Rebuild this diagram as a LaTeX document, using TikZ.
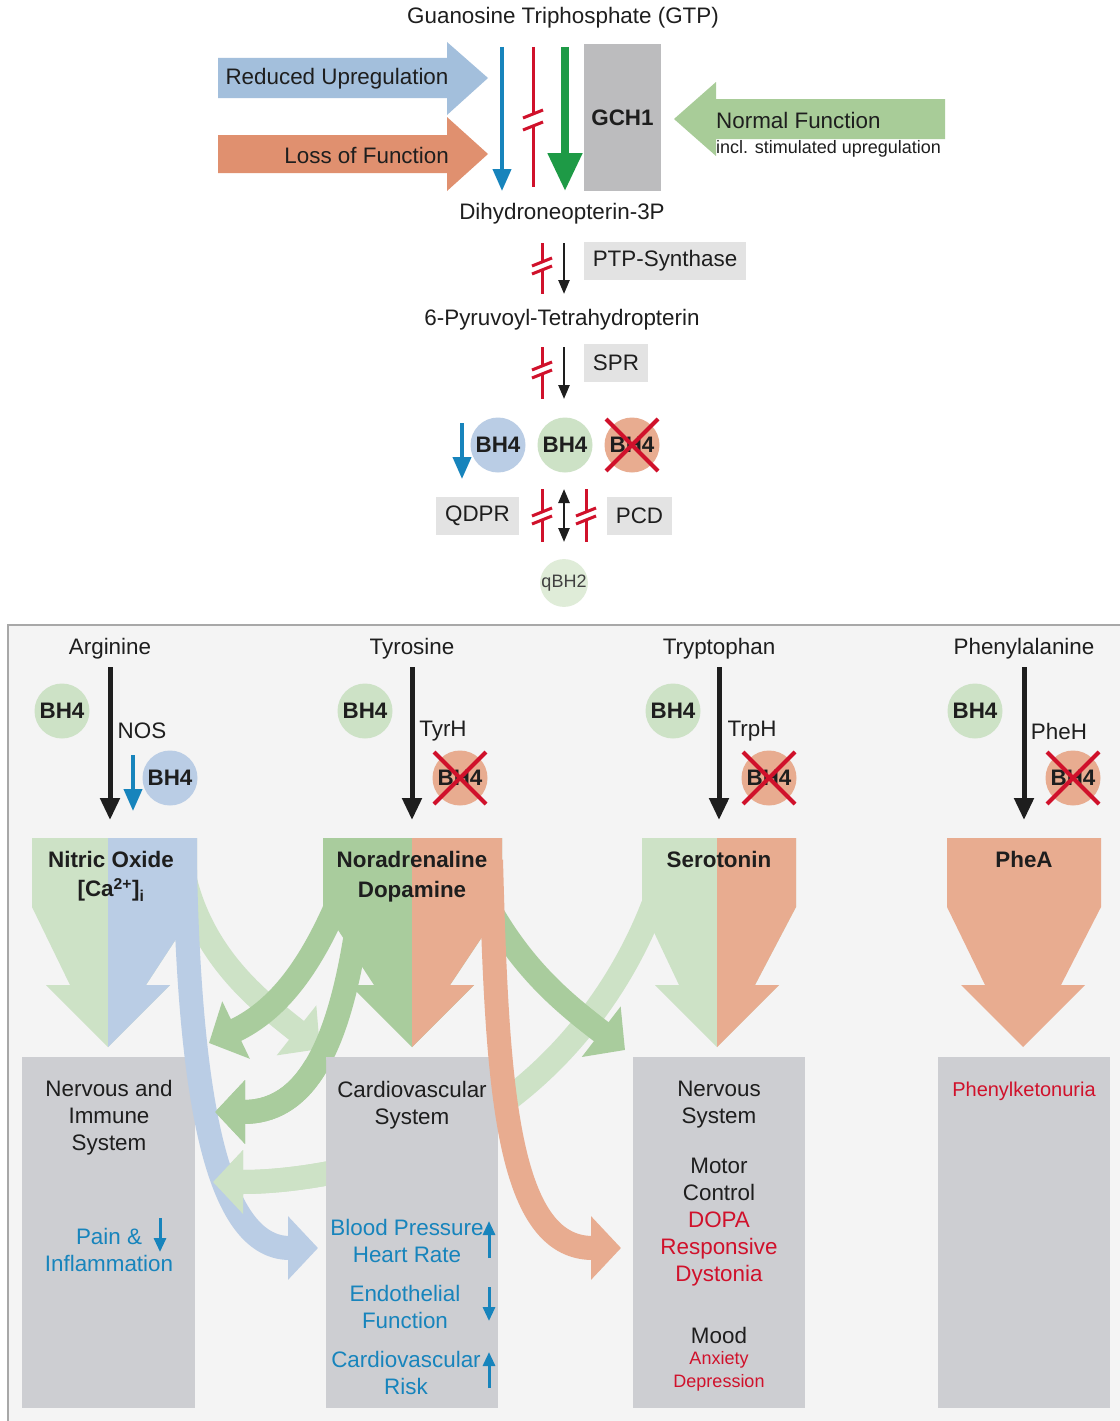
\documentclass[tikz,border=0pt]{standalone}
\usepackage{fontspec}
\setmainfont{Liberation Sans}
\usetikzlibrary{arrows.meta}
\definecolor{lgreen}{HTML}{CDE2C6}
\definecolor{dgreen}{HTML}{A9CC9D}
\definecolor{lblue}{HTML}{BACDE5}
\definecolor{orng}{HTML}{E8AC90}
\definecolor{boxgray}{HTML}{CDCED2}
\definecolor{panelbg}{HTML}{F4F4F4}
\definecolor{panelline}{HTML}{A8A8A8}
\definecolor{arrBlue}{HTML}{A3BFDC}
\definecolor{arrOrange}{HTML}{E0906F}
\definecolor{arrGreen}{HTML}{A8CC98}
\definecolor{tblue}{HTML}{1784BC}
\definecolor{tred}{HTML}{D0112B}
\definecolor{sgreen}{HTML}{1E9A46}
\definecolor{gchgray}{HTML}{BCBCBE}
\definecolor{lightbox}{HTML}{E3E3E3}
\definecolor{qbh}{HTML}{DFECD8}
\definecolor{txt}{HTML}{1E1E1E}
\newcommand{\fsN}{\fontsize{22.4}{27}\selectfont}
\newcommand{\fsS}{\fontsize{18}{23}\selectfont}
\newcommand{\fsP}{\fontsize{20}{24}\selectfont}
\newcommand{\redbreak}[5]{%
  \draw[redln] (#1,#2) -- (#1,{#4-#5});
  \draw[redln] (#1,{#4+#5}) -- (#1,#3);
  \draw[redln] ({#1-10},{#4-#5+4}) -- ({#1+10},{#4-#5-4});
  \draw[redln] ({#1-10},{#4+#5+4}) -- ({#1+10},{#4+#5-4});}
\newcommand{\crossit}[1]{%
  \draw[xr] ([shift={(-26,-26)}]#1.center) -- ([shift={(26,26)}]#1.center);
  \draw[xr] ([shift={(26,-26)}]#1.center) -- ([shift={(-26,26)}]#1.center);}
\newcommand{\blockfill}[4]{%
  \fill[#4] (#1,838) -- (#2,838) -- (#2,907) -- ({#3+38},985) -- ({#3+62},985) -- (#3,1047) -- ({#3-62},985) -- ({#3-38},985) -- (#1,907) -- cycle;}
\newcommand{\bandsix}{\draw[band, draw=lgreen] (s6) .. controls (625,995) and (540,1100) .. (m6) .. controls (350,1172) and (290,1182) .. (e6);}
\newcommand{\bandfour}{\draw[band, draw=dgreen] (s4) .. controls (338,1060) and (300,1112) .. (e4);}
\begin{document}
\begin{tikzpicture}[x=1pt,y=-1pt,
  tx/.style={font=\fsN, text=txt, inner sep=0pt},
  txb/.style={font=\fsN\bfseries, text=txt, inner sep=0pt},
  txs/.style={font=\fsS, text=txt, inner sep=0pt},
  lbox/.style={fill=lightbox, font=\fsN, text=txt, inner sep=0pt, minimum height=38pt},
  circ/.style={circle, inner sep=0pt, minimum size=55pt, font=\fsN\bfseries, text=txt},
  sysbox/.style={fill=boxgray, inner sep=0pt, minimum width=173pt, minimum height=351pt},
  redln/.style={draw=tred, line width=3pt},
  xr/.style={draw=tred, line width=4pt},
  barr/.style={draw=tblue, line width=4pt, -{Triangle[length=22pt,width=18pt]}},
  karr/.style={draw=txt, line width=2.5pt, -{Triangle[length=14pt,width=11pt]}},
  bigk/.style={draw=txt, line width=5pt, -{Triangle[length=22pt,width=19pt]}},
  ind/.style={draw=tblue, line width=3pt, -{Triangle[length=14pt,width=12pt]}},
  band/.style={line width=24pt, -{Triangle[length=30pt,width=62pt]}}
]
\useasboundingbox (0,0) rectangle (1119,1421);
\fill[white] (0,0) rectangle (1119,1421);

% ---------------- top part
\node[tx] (gtp) at (563,18) {Guanosine Triphosphate (GTP)};
\fill[arrBlue] (218,58) -- (447,58) -- (447,42) -- (488,78) -- (447,115) -- (447,98) -- (218,98) -- cycle;
\node[tx] (ru) at (337,79) {Reduced Upregulation};
\fill[arrOrange] (218,135) -- (447,135) -- (447,117) -- (488,154) -- (447,191) -- (447,173) -- (218,173) -- cycle;
\node[tx, anchor=east] (lf) at (449,155) {Loss of Function};
\fill[arrGreen] (945,99) -- (716,99) -- (716,82) -- (674,119) -- (716,156) -- (716,139) -- (945,139) -- cycle;
\node[tx, anchor=west] (nf) at (716,120) {Normal Function};
\node[txs, anchor=west] (nf2) at (716,149) {incl. stimulated upregulation};
\node[fill=gchgray, minimum width=77pt, minimum height=147pt, inner sep=0pt, font=\fsN\bfseries, text=txt] (gch) at (622.5,117.5) {GCH1};
\coordinate (ba) at (502,47); \coordinate (bb) at (502,191);
\draw[barr] (ba) -- (bb);
\redbreak{533}{47}{187}{120}{6}
\coordinate (ga) at (565,47); \coordinate (gb) at (565,191);
\draw[draw=sgreen, line width=8pt, -{Triangle[length=38pt,width=33pt]}] (ga) -- (gb);
\node[tx] (dhn) at (562,214) {Dihydroneopterin-3P};
\redbreak{542}{243}{294}{266}{4}
\coordinate (p1) at (564,243); \coordinate (p2) at (564,294);
\draw[karr] (p1) -- (p2);
\node[lbox, minimum width=162pt] (ptp) at (665,261) {PTP-Synthase};
\node[tx] (pyr) at (562,320) {6-Pyruvoyl-Tetrahydropterin};
\redbreak{542}{347}{399}{370}{4}
\coordinate (s1a) at (564,347); \coordinate (s1b) at (564,399);
\draw[karr] (s1a) -- (s1b);
\node[lbox, minimum width=64pt] (spr) at (616,363) {SPR};
\node[circ, fill=lblue] (bh4a) at (498,445) {BH4};
\coordinate (da) at (462,423); \coordinate (db) at (462,479);
\draw[barr] (da) -- (db);
\node[circ, fill=lgreen] (bh4b) at (565,445) {BH4};
\node[circ, fill=orng] (bh4c) at (632,445) {BH4};
\crossit{bh4c}
\node[lbox, minimum width=83pt] (qdpr) at (477.5,516) {QDPR};
\node[lbox, minimum width=65pt] (pcd) at (639.5,516) {PCD};
\redbreak{542}{489}{542}{516}{4}
\redbreak{586}{489}{542}{516}{4}
\coordinate (q1) at (564,489); \coordinate (q2) at (564,542);
\draw[draw=txt, line width=2.5pt, {Triangle[length=14pt,width=11pt]}-{Triangle[length=14pt,width=11pt]}] (q1) -- (q2);
\node[circle, fill=qbh, minimum size=46pt, inner sep=0pt, font=\fsS, text=txt!85] (qbh2) at (564,583) {qBH2};

% ---------------- bottom panel
\fill[panelbg] (8,625) rectangle (1130,1430);
\draw[panelline, line width=2pt] (8,1430) -- (8,625) -- (1130,625);

% column headers
\node[tx] (arg) at (110,649) {Arginine};
\node[tx] (tyr) at (412,649) {Tyrosine};
\node[tx] (trp) at (719,649) {Tryptophan};
\node[tx] (phe) at (1024,649) {Phenylalanine};
\coordinate (a1) at (110,667); \coordinate (a1e) at (110,820);
\coordinate (a2) at (412,667); \coordinate (a2e) at (412,820);
\coordinate (a3) at (719,667); \coordinate (a3e) at (719,820);
\coordinate (a4) at (1024,667); \coordinate (a4e) at (1024,820);
\draw[bigk] (a1) -- (a1e);
\draw[bigk] (a2) -- (a2e);
\draw[bigk] (a3) -- (a3e);
\draw[bigk] (a4) -- (a4e);
\node[circ, fill=lgreen] (g1) at (62,711) {BH4};
\node[circ, fill=lgreen] (g2) at (365,711) {BH4};
\node[circ, fill=lgreen] (g3) at (673,711) {BH4};
\node[circ, fill=lgreen] (g4) at (975,711) {BH4};
\node[tx] (nos) at (142,731) {NOS};
\node[tx] (tyrh) at (443,731) {TyrH};
\node[tx] (trph) at (752,731) {TrpH};
\node[tx] (pheh) at (1059,731) {PheH};
\coordinate (n1) at (133,755); \coordinate (n2) at (133,811);
\draw[barr] (n1) -- (n2);
\node[circ, fill=lblue] (c1) at (170,778) {BH4};
\node[circ, fill=orng] (c2) at (460,778) {BH4};
\node[circ, fill=orng] (c3) at (769,778) {BH4};
\node[circ, fill=orng] (c4) at (1073,778) {BH4};
\crossit{c2}
\crossit{c3}
\crossit{c4}

% curved bands (under)
\coordinate (s6) at (662,880); \coordinate (m6) at (420,1150); \coordinate (e6) at (213,1182);
\bandsix
\coordinate (s2) at (185,880); \coordinate (e2) at (320,1049);
\draw[band, draw=lgreen] (s2) .. controls (205,960) and (262,1003) .. (e2);
\coordinate (s5) at (470,870); \coordinate (e5) at (625,1050);
\draw[band, draw=dgreen] (s5) .. controls (510,960) and (560,1000) .. (e5);
\coordinate (s3) at (345,885); \coordinate (e3) at (209,1043);
\draw[band, draw=dgreen] (s3) .. controls (315,960) and (282,1008) .. (e3);
\coordinate (s4) at (358,920); \coordinate (e4) at (215,1112);
\bandfour

% block arrows
\blockfill{32}{197}{108}{lgreen}
\begin{scope}\clip (108,800) rectangle (300,1100); \blockfill{32}{197}{108}{lblue} \end{scope}
\blockfill{323}{502}{412}{dgreen}
\begin{scope}\clip (412,800) rectangle (600,1100); \blockfill{323}{502}{412}{orng} \end{scope}
\blockfill{642}{796}{717}{lgreen}
\begin{scope}\clip (717,800) rectangle (900,1100); \blockfill{642}{796}{717}{orng} \end{scope}
\blockfill{947}{1101}{1023}{orng}

% system boxes
\node[sysbox] (box1) at (108.5,1232.5) {};
\node[sysbox, minimum width=172pt] (box2) at (412,1232.5) {};
\node[sysbox, minimum width=172pt] (box3) at (719,1232.5) {};
\node[sysbox, minimum width=172pt] (box4) at (1024,1232.5) {};

% bands over
\coordinate (s1) at (185,870); \coordinate (e1) at (318,1248);
\draw[band, draw=lblue] (s1) .. controls (190,1090) and (215,1248) .. (e1);
\coordinate (s7) at (491,860); \coordinate (e7) at (621,1248);
\draw[band, draw=orng] (s7) .. controls (497,1080) and (505,1248) .. (e7);
% heads of green bands lie over the blue band
\begin{scope}
\clip (197,1060) rectangle (326,1232);
\bandfour
\bandsix
\end{scope}

% block labels
\node[txb] (no) at (111,859) {Nitric Oxide};
\node[txb] (ca) at (111,890) {[Ca\textsuperscript{2+}]\textsubscript{i}};
\node[txb] (nor) at (412,859) {Noradrenaline};
\node[txb] (dop) at (412,892) {Dopamine};
\node[txb] (ser) at (719,859) {Serotonin};
\node[txb] (phea) at (1024,859) {PheA};

% box texts
\node[tx, align=center] (t1) at (109,1118) {Nervous and\\Immune\\System};
\node[tx, align=center, text=tblue] (t1b) at (109,1250) {Pain \&\\Inflammation};
\coordinate (i1a) at (160,1218); \coordinate (i1b) at (160,1252);
\draw[ind] (i1a) -- (i1b);
\node[tx, align=center] (t2) at (412,1105) {Cardiovascular\\System};
\node[tx, align=center, text=tblue] (t2a) at (407,1241) {Blood Pressure\\Heart Rate};
\node[tx, align=center, text=tblue] (t2b) at (405,1307) {Endothelial\\Function};
\node[tx, align=center, text=tblue] (t2c) at (406,1373) {Cardiovascular\\Risk};
\coordinate (i2a) at (489,1258); \coordinate (i2b) at (489,1221);
\draw[ind] (i2a) -- (i2b);
\coordinate (i3a) at (489,1287); \coordinate (i3b) at (489,1321);
\draw[ind] (i3a) -- (i3b);
\coordinate (i4a) at (489,1388); \coordinate (i4b) at (489,1352);
\draw[ind] (i4a) -- (i4b);
\node[tx, align=center] (t3) at (719,1105) {Nervous\\System};
\node[tx, align=center] (t3a) at (719,1222) {Motor\\Control\\\textcolor{tred}{DOPA}\\\textcolor{tred}{Responsive}\\\textcolor{tred}{Dystonia}};
\node[tx] (t3b) at (719,1335) {Mood};
\node[txs, align=center, text=tred] (t3c) at (719,1371) {Anxiety\\Depression};
\node[tx, font=\fsP, text=tred] (t4) at (1024,1091) {Phenylketonuria};
\end{tikzpicture}
\end{document}
